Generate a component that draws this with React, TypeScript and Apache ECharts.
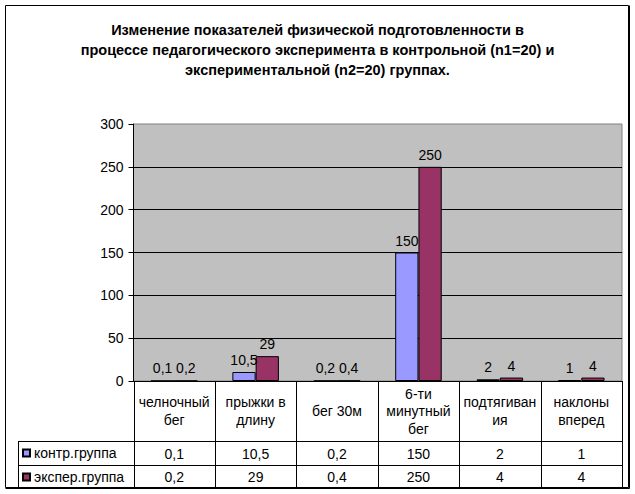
import React, { useEffect, useRef } from "react";
import * as echarts from "echarts";

const titleLines = [
  "Изменение показателей физической подготовленности в",
  "процессе педагогического эксперимента в контрольной (n1=20) и",
  "экспериментальной (n2=20) группах.",
];
const categories = [
  "челночный бег",
  "прыжки в длину",
  "бег 30м",
  "6-ти минутный бег",
  "подтягивания",
  "наклоны вперед",
];
const categoryLabels = [
  "челночный\nбег",
  "прыжки в\nдлину",
  "бег 30м",
  "6-ти\nминутный\nбег",
  "подтягиван\nия",
  "наклоны\nвперед",
];
const seriesNames = ["контр.группа", "экспер.группа"];
const controlValues = [0.1, 10.5, 0.2, 150, 2, 1];
const experValues = [0.2, 29, 0.4, 250, 4, 4];
const seriesColors = ["#9999FF", "#993366"];
const yMin = 0;
const yMax = 300;
const yInterval = 50;

const FONT = 'Arial, "Liberation Sans", sans-serif';
const FS = 14;
const fmt = (v: number) => String(v).replace(".", ",");

export default function App() {
  const ref = useRef<HTMLDivElement>(null);
  useEffect(() => {
    document.body.style.margin = "0";
    if (!ref.current) return;
    const chart = echarts.init(ref.current, undefined, { renderer: "svg" });

    const W = 635;
    const H = 494;
    const gLeft = 133.5;
    const gRight = 622;
    const gTop = 124;
    const gBottom = 381;
    const catW = (gRight - gLeft) / categories.length;
    const row1 = 441;
    const row2 = 465;
    const row3 = 487;
    const legLeft = 18.5;

    const graphic: any[] = [];
    const lineStyle = { stroke: "#000", lineWidth: 1 };
    for (let i = 0; i <= categories.length; i++) {
      const x = Math.round(gLeft + i * catW) + 0.5;
      graphic.push({
        type: "line",
        shape: { x1: x, y1: gBottom, x2: x, y2: row3 },
        style: lineStyle,
        silent: true,
      });
    }
    [row1, row2, row3].forEach((y) =>
      graphic.push({
        type: "line",
        shape: { x1: legLeft, y1: y + 0.5, x2: gRight + 0.5, y2: y + 0.5 },
        style: lineStyle,
        silent: true,
      })
    );
    graphic.push({
      type: "line",
      shape: { x1: legLeft, y1: row1, x2: legLeft, y2: row3 },
      style: lineStyle,
      silent: true,
    });
    [controlValues, experValues].forEach((vals, r) => {
      const yc = r === 0 ? (row1 + row2) / 2 + 1 : (row2 + row3) / 2 + 1;
      vals.forEach((v, i) => {
        graphic.push({
          type: "text",
          x: gLeft + (i + 0.5) * catW,
          y: yc,
          style: {
            text: fmt(v),
            fill: "#000",
            font: `${FS}px ${FONT}`,
            textAlign: "center",
            textVerticalAlign: "middle",
          },
          silent: true,
        });
      });
    });
    // outer border
    graphic.push({
      type: "rect",
      shape: { x: 5.5, y: 5.5, width: 623, height: 482 },
      style: { fill: "none", stroke: "#000", lineWidth: 1 },
      silent: true,
    });
    graphic.push({
      type: "polyline",
      shape: { points: [[629.5, 5.5], [629.5, 488.5], [5.5, 488.5]] },
      style: { fill: "none", stroke: "#000", lineWidth: 1 },
      silent: true,
    });

    chart.setOption({
      animation: false,
      backgroundColor: "#fff",
      textStyle: { fontFamily: FONT },
      title: {
        text: titleLines.join("\n"),
        left: "center",
        top: 20,
        padding: 0,
        textStyle: {
          fontFamily: FONT,
          fontSize: 14.5,
          fontWeight: "bold",
          color: "#000",
          lineHeight: 20,
        },
      },
      legend: {
        orient: "vertical",
        left: 22,
        top: 446,
        padding: 0,
        itemWidth: 7,
        itemHeight: 7,
        itemGap: 10,
        icon: "rect",
        data: seriesNames,
        textStyle: { fontFamily: FONT, fontSize: 14, color: "#000", lineHeight: 14, padding: [0, 0, 0, -1] },
        selectedMode: false,
      },
      grid: {
        left: gLeft,
        right: W - gRight,
        top: gTop,
        bottom: H - gBottom,
        show: true,
        backgroundColor: "#C0C0C0",
        borderColor: "#808080",
        borderWidth: 1,
      },
      xAxis: {
        type: "category",
        data: categories,
        axisLine: { show: true, lineStyle: { color: "#000", width: 1 } },
        axisTick: { show: false },
        axisLabel: {
          interval: 0,
          margin: 30,
          verticalAlign: "middle",
          lineHeight: 17.5,
          fontSize: FS,
          fontFamily: FONT,
          color: "#000",
          formatter: (_v: string, i: number) => categoryLabels[i],
        },
        splitLine: { show: false },
      },
      yAxis: {
        type: "value",
        min: yMin,
        max: yMax,
        interval: yInterval,
        axisLine: { show: true, lineStyle: { color: "#000", width: 1 } },
        axisTick: { show: true, length: 5, lineStyle: { color: "#000" } },
        axisLabel: {
          margin: 10,
          fontSize: FS,
          fontFamily: FONT,
          color: "#000",
        },
        splitLine: {
          show: true,
          showMaxLine: false,
          showMinLine: false,
          lineStyle: { color: "#000", width: 1 },
        },
      },
      series: [controlValues, experValues].map((vals, k) => ({
        name: seriesNames[k],
        type: "bar",
        data: vals,
        barGap: "0%",
        barCategoryGap: "42.86%",
        itemStyle: { color: seriesColors[k], borderColor: "#000", borderWidth: 1 },
        label: {
          show: true,
          position: "top",
          distance: 5,
          fontSize: FS,
          fontFamily: FONT,
          color: "#000",
          formatter: (p: any) => fmt(p.value),
        },
      })),
      graphic,
    });

    return () => chart.dispose();
  }, []);
  return <div ref={ref} style={{ width: 635, height: 494 }} />;
}
